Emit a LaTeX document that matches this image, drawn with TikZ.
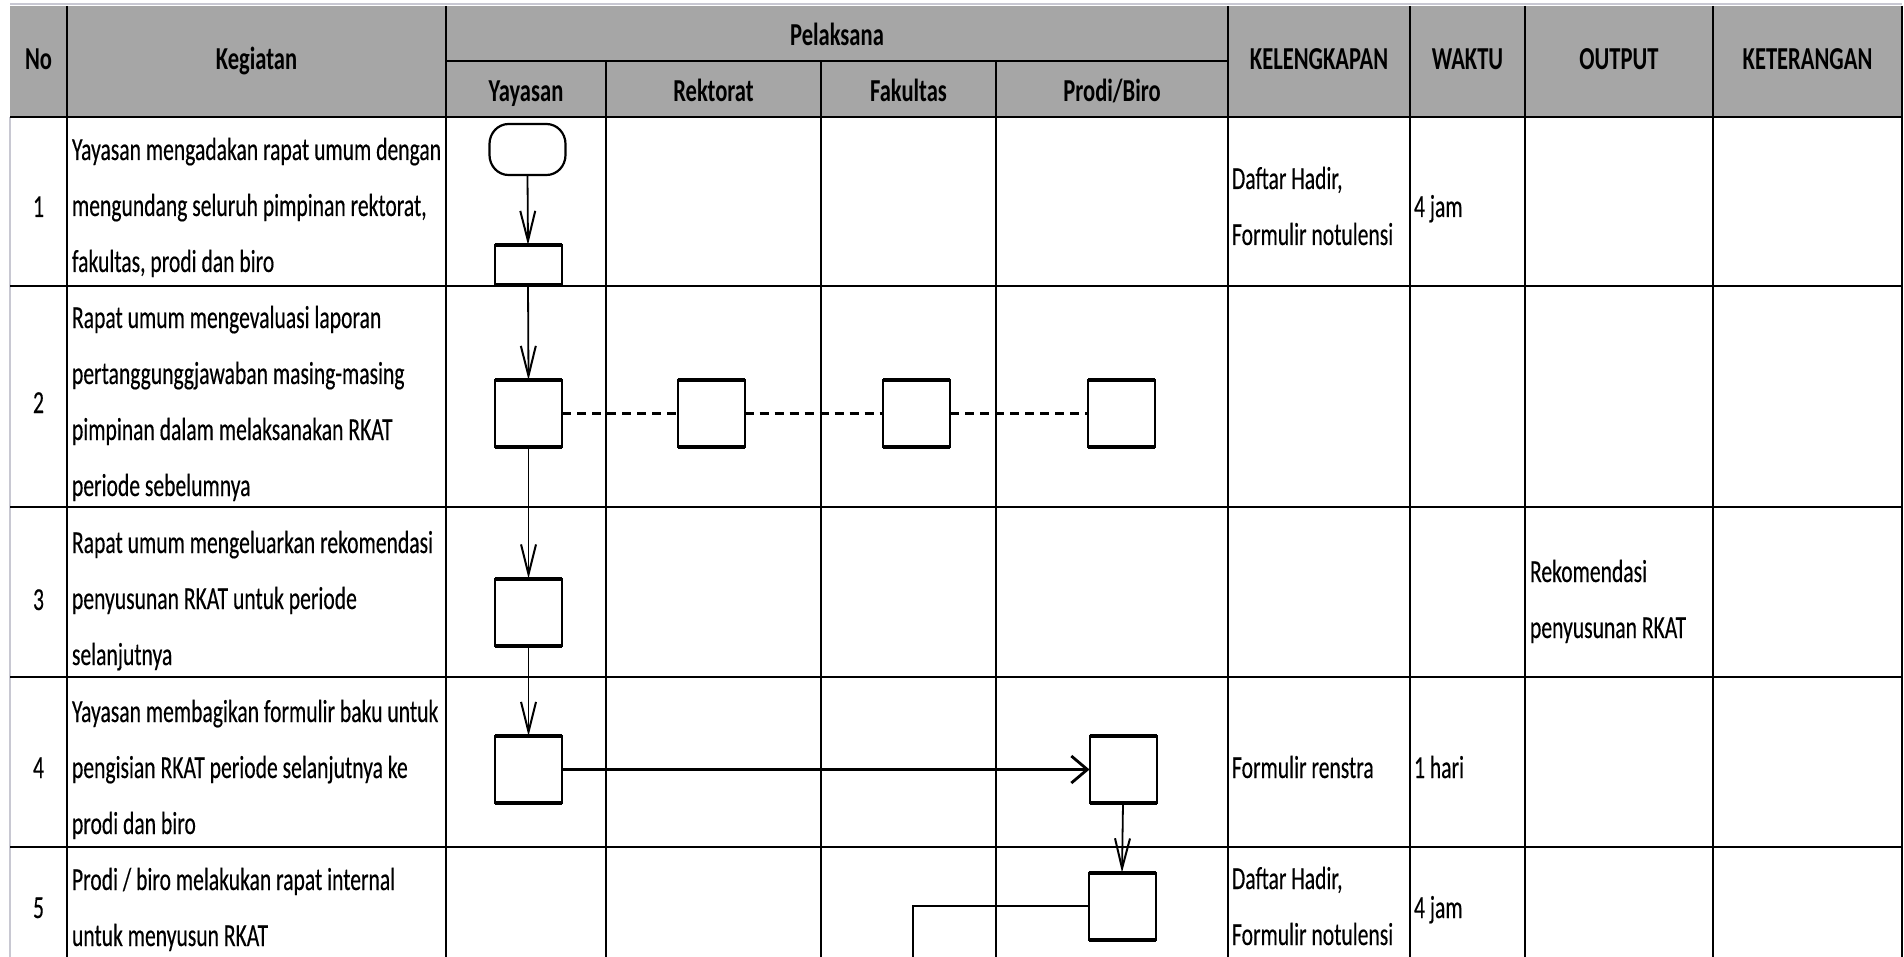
\documentclass[tikz,border=0pt]{standalone}
\usepackage{fontspec}
\setmainfont[FakeStretch=0.675, FakeBold=0.3]{Carlito}
\newfontfamily\hdfont[FakeStretch=0.705]{Carlito}
\usetikzlibrary{arrows.meta}
\definecolor{hdr}{RGB}{166,166,166}
\definecolor{edgegray}{RGB}{200,200,210}
\newcommand{\cellt}[1]{\begin{tabular}[t]{@{}l@{}}#1\end{tabular}}
\begin{document}
\begin{tikzpicture}[x=0.5pt,y=-0.5pt,
  every node/.style={inner sep=0pt, outer sep=0pt},
  txt/.style={anchor=base west, font=\fontsize{16}{28}\selectfont},
  num/.style={anchor=base, font=\fontsize{16}{28}\selectfont},
  hd/.style={anchor=base, font=\fontsize{16}{28}\selectfont\hdfont\bfseries},
  gridv/.style={line width=0.7pt},
  gridh/.style={line width=1.4pt},
  pbox/.style={draw, line width=1pt, minimum width=33.5pt, minimum height=33.5pt},
  tbline/.style={line width=2pt},
  flow/.style={line width=0.9pt, -{Straight Barb[length=15pt,width=7.5pt,line width=1pt]}},
  hflow/.style={line width=1.4pt, -{Straight Barb[length=8pt,width=13.5pt]}},
  dashlink/.style={line width=1.5pt, dash pattern=on 4.5pt off 3pt},
  lane/.style={line width=1.3pt}
]
\useasboundingbox (0,0) rectangle (1904,957);
% header background
\fill[hdr] (10,6) rectangle (1902,117);
\draw[edgegray, line width=1pt] (10,4) -- (1902,4);
% vertical grid lines
\foreach \x in {67,446,1228,1410,1525,1713,1902} \draw[gridv] (\x,6) -- (\x,957);
\foreach \x in {606,821,996} \draw[gridv] (\x,61) -- (\x,957);
\draw[edgegray, line width=0.8pt] (10,117) -- (10,957);
% horizontal grid lines
\draw[gridh] (446,61) -- (1228,61);
\foreach \y in {117,286,507,677,847} \draw[gridh] (10,\y) -- (1902,\y);
% header labels
\node[hd] (hno) at (38.5,70) {No};
\node[hd] (hkeg) at (256.5,70) {Kegiatan};
\node[hd] (hpel) at (837,46) {Pelaksana};
\node[hd] (hyay) at (526,102) {Yayasan};
\node[hd] (hrek) at (713.5,102) {Rektorat};
\node[hd] (hfak) at (908.5,102) {Fakultas};
\node[hd] (hpro) at (1112,102) {Prodi/Biro};
\node[hd] (hkel) at (1319,70) {KELENGKAPAN};
\node[hd] (hwak) at (1467.5,70) {WAKTU};
\node[hd] (hout) at (1619,70) {OUTPUT};
\node[hd] (hket) at (1807.5,70) {KETERANGAN};
% numbers
\node[num] (n1) at (38.5,217) {1};
\node[num] (n2) at (38.5,413) {2};
\node[num] (n3) at (38.5,610) {3};
\node[num] (n4) at (38.5,778) {4};
\node[num] (n5) at (38.5,918) {5};
% activities
\node[txt] (k1) at (72,160) {\cellt{Yayasan mengadakan rapat umum dengan\\mengundang seluruh pimpinan rektorat,\\fakultas, prodi dan biro}};
\node[txt] (k2) at (72,328) {\cellt{Rapat umum mengevaluasi laporan\\pertanggunggjawaban masing-masing\\pimpinan dalam melaksanakan RKAT\\periode sebelumnya}};
\node[txt] (k3) at (72,553) {\cellt{Rapat umum mengeluarkan rekomendasi\\penyusunan RKAT untuk periode\\selanjutnya}};
\node[txt] (k4) at (72,722) {\cellt{Yayasan membagikan formulir baku untuk\\pengisian RKAT periode selanjutnya ke\\prodi dan biro}};
\node[txt] (k5) at (72,890) {\cellt{Prodi / biro melakukan rapat internal\\untuk menyusun RKAT}};
% right columns
\node[txt] (kl1) at (1232,189) {\cellt{Daftar Hadir,\\Formulir notulensi}};
\node[txt] (w1) at (1414,217) {4 jam};
\node[txt] (o3) at (1530,582) {\cellt{Rekomendasi\\penyusunan RKAT}};
\node[txt] (kl4) at (1232,778) {Formulir renstra};
\node[txt] (w4) at (1414,778) {1 hari};
\node[txt] (kl5) at (1232,889) {\cellt{Daftar Hadir,\\Formulir notulensi}};
\node[txt] (w5) at (1414,918) {4 jam};
% flow shapes
\node[minimum width=38pt, minimum height=25.5pt] (t) at (527.5,149.5) {};
\draw[line width=1.1pt] ([xshift=9.5pt]t.north west) -- ([xshift=-9.5pt]t.north east)
  arc[start angle=90, end angle=0, x radius=9.5pt, y radius=10pt]
  -- ([yshift=10pt]t.south east)
  arc[start angle=0, end angle=-90, x radius=9.5pt, y radius=10pt]
  -- ([xshift=9.5pt]t.south west)
  arc[start angle=270, end angle=180, x radius=9.5pt, y radius=10pt]
  -- ([yshift=-10pt]t.north west)
  arc[start angle=180, end angle=90, x radius=9.5pt, y radius=10pt] -- cycle;
\node[pbox, minimum height=20pt] (b1) at (528,265) {};
\node[pbox] (b2y) at (528.5,413.5) {};
\node[pbox] (b2r) at (711,413.5) {};
\node[pbox] (b2f) at (916.5,413.5) {};
\node[pbox] (b2p) at (1121.5,413.5) {};
\node[pbox] (b3) at (528.5,612) {};
\node[pbox] (b4y) at (528.5,769.5) {};
\node[pbox] (b4p) at (1123,769.5) {};
\node[pbox] (b5p) at (1122,906) {};
\foreach \n in {b1,b2y,b2r,b2f,b2p,b3,b4y,b4p,b5p}
  \draw[tbline] (\n.north west) -- (\n.north east) (\n.south west) -- (\n.south east);
% connectors
\draw[flow] (t.south) -- (b1.north);
\draw[flow] (b1.south) -- (b2y.north);
\draw[flow] (b2y.south) -- (b3.north);
\draw[flow] (b3.south) -- (b4y.north);
\draw[hflow] (b4y.east) -- (b4p.west);
\draw[flow] (b4p.south) -- (b5p.north);
\draw[dashlink] (b2y.east) -- (b2r.west);
\draw[dashlink] (b2r.east) -- (b2f.west);
\draw[dashlink] (b2f.east) -- (b2p.west);
\coordinate (c5) at (913,957);
\draw[lane] (b5p.west) -| (c5);
\end{tikzpicture}
\end{document}
